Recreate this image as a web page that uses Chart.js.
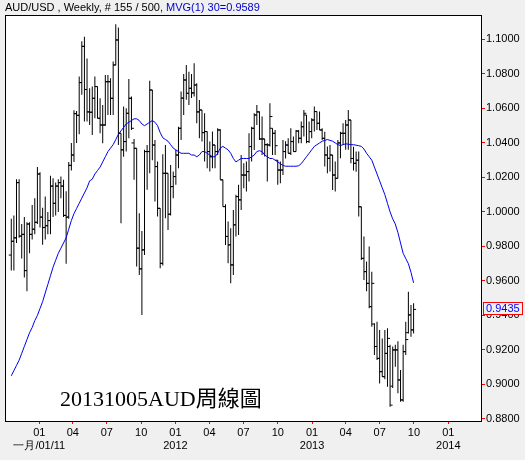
<!DOCTYPE html>
<html>
<head>
<meta charset="utf-8">
<script src="https://cdn.jsdelivr.net/npm/chart.js@4.4.0/dist/chart.umd.min.js"></script>
<style>
  html, body { margin: 0; padding: 0; background: #f0f0f0; }
  canvas { display: block; }
</style>
</head>
<body>
<canvas id="grafico" width="525" height="460"></canvas>
<script>
// semanas a partir de 18/10/2010 (uma barra por semana)
const inicio = Date.UTC(2010, 9, 18);

const opens = [
  0.975, 0.983, 0.985, 1.017, 0.986, 0.987, 0.966, 0.993, 0.987, 0.990,
  0.994, 1.022, 0.997, 0.991, 0.992, 0.995, 1.015, 1.005, 1.015, 1.017,
  1.015, 0.998, 0.997, 1.027, 1.033, 1.057, 1.056, 1.075, 1.096, 1.071,
  1.058, 1.0578, 1.0659, 1.0727, 1.0543, 1.0504, 1.0504, 1.0755, 1.0755, 1.0659,
  1.0852, 1.0997, 1.0456, 1.036, 1.0408, 1.0572, 1.0659, 1.040, 1.0369, 0.979,
  0.967, 0.978, 1.035, 1.035, 1.0707, 1.0388, 1.0263, 1.0021, 0.9702, 1.0224,
  1.0224, 0.9987, 1.0147, 1.0205, 1.033, 1.0485, 1.066, 1.0765, 1.0688, 1.0717,
  1.069, 1.0736, 1.058, 1.0591, 1.046, 1.0466, 1.035, 1.032, 1.0388, 1.035,
  1.0475, 1.0186, 1.0031, 0.9858, 0.9809, 0.9693, 0.9925, 1.0089, 1.007, 1.0214,
  1.0214, 1.0234, 1.0379, 1.0485, 1.0562, 1.058, 1.0423, 1.0423, 1.039, 1.0388,
  1.0485, 1.0456, 1.030, 1.0243, 1.0243, 1.035, 1.0388, 1.034, 1.0408, 1.035,
  1.0469, 1.0427, 1.0494, 1.0562, 1.0408, 1.0466, 1.0533, 1.0582, 1.0514, 1.0475,
  1.0427, 1.033, 1.0311, 1.033, 1.0214, 1.0195, 1.040, 1.0456, 1.0456, 1.0504,
  1.0533, 1.031, 1.0282, 1.030, 1.003, 0.9731, 0.9654, 0.9586, 0.9451, 0.935,
  0.922, 0.9151, 0.9074, 0.9045, 0.918, 0.922, 0.899, 0.920, 0.920, 0.9026,
  0.891, 0.919, 0.930, 0.9403, 0.9316
];
const highs = [
  0.996, 0.998, 1.019, 1.019, 0.993, 0.997, 0.994, 0.994, 1.004, 1.008,
  1.026, 1.023, 1.0025, 1.009, 1.000, 1.021, 1.0195, 1.017, 1.019, 1.0205,
  1.0186, 1.012, 1.029, 1.040, 1.059, 1.0585, 1.0785, 1.099, 1.1016, 1.089,
  1.0717, 1.0727, 1.0785, 1.0727, 1.0659, 1.062, 1.0794, 1.0794, 1.0775, 1.0872,
  1.1088, 1.1069, 1.0456, 1.0611, 1.0601, 1.0771, 1.0669, 1.0423, 1.0369, 0.9992,
  0.989, 1.036, 1.0388, 1.076, 1.0707, 1.0417, 1.0292, 1.0021, 1.0334, 1.0388,
  1.0224, 1.0272, 1.0234, 1.036, 1.0494, 1.0698, 1.080, 1.0852, 1.0813, 1.080,
  1.0862, 1.0746, 1.0649, 1.0591, 1.0572, 1.0466, 1.0408, 1.0466, 1.0388, 1.0485,
  1.048, 1.0186, 1.0044, 0.9944, 0.9905, 1.0012, 1.0099, 1.0157, 1.033, 1.0282,
  1.0292, 1.0456, 1.0494, 1.0572, 1.062, 1.0582, 1.0553, 1.0423, 1.0398, 1.063,
  1.0485, 1.0475, 1.0301, 1.0292, 1.0417, 1.041, 1.0427, 1.0485, 1.0437, 1.0475,
  1.0475, 1.0524, 1.0591, 1.0562, 1.0524, 1.0543, 1.0611, 1.0582, 1.0582, 1.0485,
  1.0465, 1.0379, 1.0388, 1.033, 1.0292, 1.0417, 1.0465, 1.0514, 1.0533, 1.0591,
  1.0533, 1.0378, 1.035, 1.035, 1.003, 0.9857, 0.9712, 0.9799, 0.9654, 0.9354,
  0.9364, 0.9316, 0.9267, 0.9316, 0.9325, 0.923, 0.922, 0.923, 0.925, 0.9084,
  0.923, 0.9364, 0.9538, 0.946, 0.947
];
const lows = [
  0.966, 0.966, 0.982, 0.985, 0.973, 0.962, 0.954, 0.976, 0.984, 0.987,
  0.993, 0.991, 0.981, 0.984, 0.987, 0.987, 0.997, 0.998, 1.000, 1.008,
  0.997, 0.970, 0.996, 1.024, 1.029, 1.040, 1.045, 1.068, 1.0524, 1.0524,
  1.0504, 1.0446, 1.0543, 1.0543, 1.0456, 1.0398, 1.050, 1.0562, 1.0562, 1.0562,
  1.085, 1.0388, 0.9934, 1.032, 1.035, 1.0427, 1.0475, 1.0186, 0.9683, 0.9635,
  0.9403, 0.975, 1.0128, 1.0224, 1.030, 1.006, 0.9973, 0.9673, 0.969, 0.9963,
  0.9896, 0.998, 1.008, 1.0157, 1.0253, 1.0417, 1.0562, 1.065, 1.062, 1.066,
  1.0669, 1.0514, 1.0427, 1.0408, 1.0292, 1.0253, 1.0234, 1.0253, 1.0253, 1.033,
  1.0186, 1.0031, 0.9809, 0.9703, 0.9587, 0.9635, 0.9858, 0.9867, 1.0012, 1.0137,
  1.0118, 1.0176, 1.0292, 1.0359, 1.0504, 1.0417, 1.033, 1.0321, 1.0176, 1.0379,
  1.033, 1.033, 1.0157, 1.0166, 1.0214, 1.031, 1.034, 1.033, 1.035, 1.035,
  1.0398, 1.0398, 1.0437, 1.0398, 1.040, 1.0427, 1.0466, 1.0475, 1.0475, 1.0417,
  1.0263, 1.0224, 1.0234, 1.0127, 1.0118, 1.0195, 1.0311, 1.0388, 1.036, 1.036,
  1.0282, 1.024, 1.0233, 0.9973, 0.9722, 0.9606, 0.954, 0.9441, 0.9335, 0.917,
  0.9142, 0.9006, 0.9045, 0.903, 0.8987, 0.8871, 0.898, 0.9103, 0.8949, 0.8900,
  0.8900, 0.917, 0.9296, 0.9277, 0.9296
];
const closes = [
  0.983, 0.985, 1.017, 0.986, 0.987, 0.966, 0.993, 0.987, 0.990, 0.994,
  1.022, 0.997, 0.991, 0.992, 0.995, 1.015, 1.005, 1.015, 1.017, 1.015,
  0.998, 0.997, 1.027, 1.033, 1.057, 1.056, 1.075, 1.096, 1.071, 1.058,
  1.0578, 1.0659, 1.0727, 1.0543, 1.0504, 1.0504, 1.0755, 1.0755, 1.0659, 1.0852,
  1.0997, 1.0456, 1.036, 1.0408, 1.0572, 1.0659, 1.0485, 1.0369, 0.979, 0.967,
  0.978, 1.035, 1.035, 1.0707, 1.0388, 1.0263, 1.0021, 0.9702, 1.0224, 1.0224,
  0.9987, 1.0147, 1.0205, 1.033, 1.0485, 1.066, 1.0765, 1.0688, 1.0717, 1.069,
  1.0736, 1.058, 1.0591, 1.046, 1.0466, 1.035, 1.032, 1.0388, 1.035, 1.0475,
  1.0186, 1.0031, 0.9858, 0.9809, 0.9693, 0.9925, 1.0089, 1.007, 1.0214, 1.0214,
  1.0234, 1.0379, 1.0485, 1.0562, 1.058, 1.0423, 1.0423, 1.039, 1.0388, 1.0553,
  1.0456, 1.0384, 1.0243, 1.0243, 1.035, 1.0388, 1.034, 1.0408, 1.035, 1.0469,
  1.0427, 1.0494, 1.0572, 1.0408, 1.0466, 1.0533, 1.0582, 1.0514, 1.0475, 1.0427,
  1.033, 1.0311, 1.033, 1.0214, 1.0195, 1.040, 1.0456, 1.0456, 1.0504, 1.0533,
  1.031, 1.0282, 1.030, 1.003, 0.9731, 0.9654, 0.9586, 0.9451, 0.9586, 0.922,
  0.9151, 0.9074, 0.9045, 0.918, 0.9267, 0.888, 0.920, 0.920, 0.9026, 0.891,
  0.919, 0.926, 0.9403, 0.9316, 0.9435
];
// MVG(1) 30
const ma = [
  0.905, 0.908, 0.911, 0.914, 0.918, 0.922, 0.926, 0.930, 0.933, 0.937,
  0.940, 0.944, 0.948, 0.953, 0.958, 0.963, 0.968, 0.972, 0.976, 0.979,
  0.982, 0.985, 0.990, 0.995, 0.999, 1.002, 1.005, 1.008, 1.011, 1.014,
  1.018, 1.019, 1.022, 1.024, 1.026, 1.029, 1.032, 1.035, 1.037, 1.039,
  1.042, 1.045, 1.047, 1.049, 1.051, 1.052, 1.053, 1.054, 1.054, 1.053,
  1.051, 1.050, 1.051, 1.052, 1.053, 1.052, 1.050, 1.046, 1.043, 1.042,
  1.041, 1.039, 1.037, 1.036, 1.035, 1.034, 1.034, 1.034, 1.034, 1.033,
  1.033, 1.032, 1.033, 1.035, 1.035, 1.034, 1.033, 1.032, 1.032, 1.034,
  1.037, 1.038, 1.037, 1.036, 1.034, 1.031, 1.029, 1.030, 1.031, 1.031,
  1.031, 1.031, 1.032, 1.033, 1.035, 1.0355, 1.035, 1.033, 1.032, 1.031,
  1.031, 1.030, 1.029, 1.028, 1.027, 1.0265, 1.0265, 1.0265, 1.0265, 1.0265,
  1.0268, 1.028, 1.030, 1.032, 1.034, 1.036, 1.038, 1.039, 1.040, 1.041,
  1.0415, 1.042, 1.0415, 1.041, 1.040, 1.039, 1.0385, 1.039, 1.0395, 1.0393,
  1.039, 1.039, 1.0387, 1.0384, 1.038, 1.0365, 1.034, 1.032, 1.030, 1.026,
  1.022, 1.018, 1.014, 1.010, 1.005, 1.000, 0.996, 0.993, 0.988, 0.982,
  0.976, 0.973, 0.970, 0.965, 0.9589
];

const mesesTick = ['2011-01', '2011-04', '2011-07', '2011-10', '2012-01', '2012-04', '2012-07',
  '2012-10', '2013-01', '2013-04', '2013-07', '2013-10', '2014-01'];
const rotulosTick = [['01', '一月/01/11'], ['04'], ['07'], ['10'], ['01', '2012'], ['04'], ['07'],
  ['10'], ['01', '2013'], ['04'], ['07'], ['10'], ['01', '2014']];
const ticksY = [0.88, 0.90, 0.92, 0.94, 0.96, 0.98, 1.00, 1.02, 1.04, 1.06, 1.08, 1.10];

function semana(ym) {
  const [a, m] = ym.split('-').map(Number);
  return (Date.UTC(a, m - 1, 1) - inicio) / (7 * 86400000);
}

const fonte = '"Liberation Sans", Arial, sans-serif';
Chart.defaults.font.family = fonte;

const moldura = {
  id: 'moldura',
  beforeDraw(chart) {
    const { ctx, chartArea: a } = chart;
    ctx.save();
    ctx.fillStyle = '#f0f0f0';
    ctx.fillRect(0, 0, chart.width, chart.height);
    ctx.fillStyle = '#ffffff';
    ctx.fillRect(a.left, a.top, a.right - a.left, a.bottom - a.top);
    ctx.restore();
  },
  afterDraw(chart) {
    const { ctx, chartArea: a } = chart;
    ctx.save();
    ctx.strokeStyle = '#000';
    ctx.lineWidth = 1;
    ctx.strokeRect(a.left + 0.5, a.top - 0.5, a.right - a.left, a.bottom - a.top + 1);

    // titulo
    ctx.font = '11px ' + fonte;
    ctx.textBaseline = 'middle';
    const t1 = 'AUD/USD , Weekly, # ' + closes.length + ' / 500';
    const t2 = ', MVG(1) 30=' + ma[ma.length - 1].toFixed(4);
    ctx.fillStyle = '#000';
    ctx.fillText(t1, 5, 8);
    ctx.fillStyle = '#0000cc';
    ctx.fillText(t2, 5 + ctx.measureText(t1).width, 8);

    // marca d'agua
    ctx.font = '22px "Liberation Serif", "Noto Sans CJK TC", serif';
    ctx.textBaseline = 'alphabetic';
    ctx.fillStyle = '#000';
    ctx.fillText('20131005AUD周線圖', 60, 406);

    // ultimo preco
    const ult = closes[closes.length - 1];
    const py = Math.round(chart.scales.y.getPixelForValue(ult));
    ctx.fillStyle = '#f0f0f0';
    ctx.fillRect(483, py - 7, 39, 13);
    ctx.strokeStyle = '#ff0000';
    ctx.strokeRect(483.5, py - 6.5, 39, 12);
    ctx.font = '11px ' + fonte;
    ctx.textBaseline = 'middle';
    ctx.fillStyle = '#0000ff';
    ctx.fillText(ult.toFixed(4), 486, py);
    ctx.restore();
  }
};

const ctx = document.getElementById('grafico').getContext('2d');
const grafico = new Chart(ctx, {
  type: 'bar',
  data: {
    datasets: [
      {
        type: 'line',
        label: 'MVG(1) 30',
        data: ma.map((v, i) => ({ x: i, y: v })),
        borderColor: '#0000ee',
        borderWidth: 1,
        pointRadius: 0,
        order: 0
      },
      {
        type: 'bar',
        label: 'High-Low',
        data: highs.map((h, i) => ({ x: i, y: [lows[i], h] })),
        backgroundColor: '#000',
        barThickness: 1,
        inflateAmount: 0,
        order: 1
      },
      {
        type: 'scatter',
        label: 'Open',
        data: opens.map((v, i) => ({ x: i, y: v })),
        pointStyle: 'dash',
        rotation: 180,
        pointRadius: 2.5,
        borderColor: '#000',
        borderWidth: 1,
        order: 1
      },
      {
        type: 'scatter',
        label: 'Close',
        data: closes.map((v, i) => ({ x: i, y: v })),
        pointStyle: 'dash',
        rotation: 0,
        pointRadius: 2.5,
        borderColor: '#000',
        borderWidth: 1,
        order: 1
      }
    ]
  },
  options: {
    responsive: false,
    animation: false,
    events: [],
    layout: { padding: { left: 4, top: 16, right: 0, bottom: 0 } },
    plugins: {
      legend: { display: false },
      tooltip: { enabled: false }
    },
    scales: {
      x: {
        type: 'linear',
        min: -2.4,
        max: 179.8,
        offset: false,
        grid: { drawOnChartArea: false, drawTicks: true, tickLength: 3, color: '#ff0000', offset: false },
        border: { display: false },
        ticks: {
          autoSkip: false,
          maxRotation: 0,
          padding: 2,
          color: '#000',
          font: { size: 11 },
          callback: (v, i) => rotulosTick[i]
        },
        afterBuildTicks: (s) => { s.ticks = mesesTick.map(m => ({ value: semana(m) })); },
        afterFit: (s) => { s.height = 39; }
      },
      y: {
        position: 'right',
        min: 0.8788,
        max: 1.1136,
        grid: { drawOnChartArea: false, drawTicks: true, tickLength: 4, color: '#ff0000' },
        border: { display: false },
        ticks: {
          padding: 1,
          color: '#000',
          font: { size: 11 },
          callback: (v) => v.toFixed(4)
        },
        afterBuildTicks: (s) => { s.ticks = ticksY.map(v => ({ value: v })); },
        afterFit: (s) => { s.width = 44; }
      }
    }
  },
  plugins: [moldura]
});
</script>
</body>
</html>
